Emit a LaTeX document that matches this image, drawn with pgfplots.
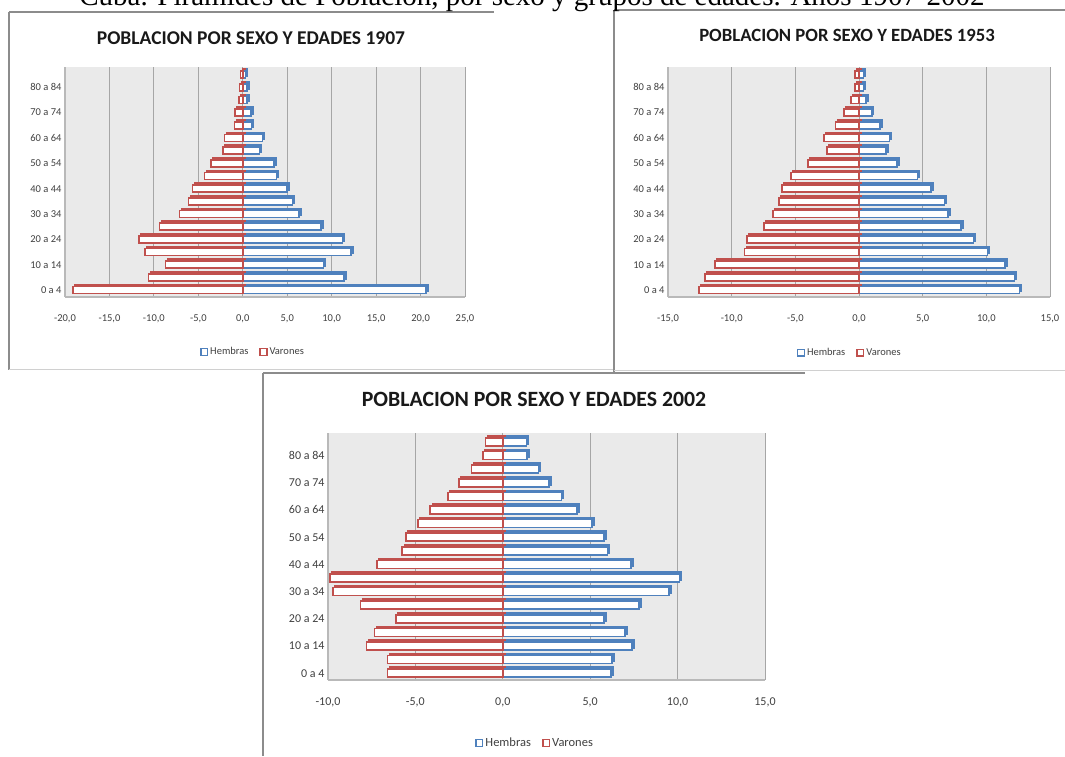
\documentclass[border=0pt]{standalone}
\usepackage{pgfplots}
\pgfplotsset{compat=1.18}
\usepackage{fontspec}
\setmainfont{Carlito}
\newfontfamily\capfont{Liberation Serif}
\definecolor{hblue}{HTML}{4F81BD}
\definecolor{vred}{HTML}{C0504D}
\definecolor{wall}{HTML}{EAEAEA}
\definecolor{gridc}{HTML}{A6A6A6}
\definecolor{lbl}{HTML}{404040}
\definecolor{framec}{HTML}{8C8C8C}
\definecolor{framel}{HTML}{D0D0D0}

\pgfplotsset{
  pyr/.style={
    scale only axis, anchor=south west,
    axis background/.style={fill=wall},
    axis x line*=bottom, axis y line*=left,
    axis line style={-, draw=gray!55, line width=2.5pt},
    xmajorgrids, major grid style={draw=gridc, line width=0.8pt},
    major tick length=0pt,
    ytick={0,2,...,16},
    yticklabels={0 a 4,10 a 14,20 a 24,30 a 34,40 a 44,50 a 54,60 a 64,70 a 74,80 a 84},
    /pgf/number format/fixed, /pgf/number format/fixed zerofill,
    /pgf/number format/precision=1, /pgf/number format/use comma,
    /pgf/number format/assume math mode=true,
    ticklabel style={text=lbl},
    xticklabel style={yshift=-14pt},
    legend columns=2,
    legend style={draw=none, fill=none, anchor=center, text=lbl,
      /tikz/every even column/.append style={column sep=9pt}},
  },
  shad/.style={xbar, bar shift=0pt, draw=#1, fill=#1, line width=1.5pt, xshift=2pt, yshift=2pt, forget plot},
  mainbar/.style={xbar, bar shift=0pt, draw=#1, fill=white, line width=1.6pt,
    legend image code/.code={\draw[draw=#1, line width=1.5pt, fill=white] (0pt,-3.3pt) rectangle (6.6pt,3.3pt);}},
}

\begin{document}
\begin{tikzpicture}[x=1pt,y=1pt]
\useasboundingbox (0,0) rectangle (1065,756);

% frames
\draw[framec, line width=1.5pt] (9,744) -- (494,744);
\draw[framec, line width=1.5pt] (9,744) -- (9,386);
\draw[framel, line width=1pt] (9,386) -- (614,386);
\draw[framec, line width=1.5pt] (614,746) -- (1065,746);
\draw[framec, line width=1.5pt] (614,746) -- (614,382);
\draw[framel, line width=1pt] (614,385) -- (1065,385);
\draw[framec, line width=1.5pt] (263,383) -- (805,383);
\draw[framec, line width=1.5pt] (263,383) -- (263,0);

% top caption (partly cut)
\node[anchor=base, inner sep=0pt, font=\capfont\fontsize{29}{34}\selectfont] at (532,750)
  {Cuba. Pirámides de Población, por sexo y grupos de edades. Años 1907-2002};

% titles
\node[font=\bfseries\fontsize{19.5}{23}\selectfont, text=black!90] at (251,718) {POBLACION POR SEXO Y EDADES 1907};
\node[font=\bfseries\fontsize{18.7}{22}\selectfont, text=black!90] at (847,721) {POBLACION POR SEXO Y EDADES 1953};
\node[font=\bfseries\fontsize{21.8}{26}\selectfont, text=black!90] at (534,357) {POBLACION POR SEXO Y EDADES 2002};

% ---------- 1907 ----------
\begin{axis}[pyr, at={(65pt,459pt)}, width=400pt, height=230pt,
  xmin=-20, xmax=25, ymin=-0.55, ymax=17.6,
  xtick={-20,-15,...,25}, bar width=7pt,
  ticklabel style={font=\fontsize{10.5}{12}\selectfont},
  legend style={at={(0.47,-0.239)}, font=\fontsize{10.5}{12}\selectfont}]
\addplot[shad=hblue] coordinates {(20.6,0)(11.4,1)(9.1,2)(12.2,3)(11.2,4)(8.8,5)(6.3,6)(5.6,7)(5.0,8)(3.8,9)(3.5,10)(1.9,11)(2.2,12)(1.0,13)(0.9,14)(0.5,15)(0.5,16)(0.3,17)};
\addplot[shad=vred] coordinates {(-19.1,0)(-10.6,1)(-8.7,2)(-11.0,3)(-11.7,4)(-9.35,5)(-7.1,6)(-6.1,7)(-5.65,8)(-4.3,9)(-3.55,10)(-2.2,11)(-2.05,12)(-0.95,13)(-0.85,14)(-0.4,15)(-0.35,16)(-0.25,17)};
\addplot[mainbar=hblue] coordinates {(20.6,0)(11.4,1)(9.1,2)(12.2,3)(11.2,4)(8.8,5)(6.3,6)(5.6,7)(5.0,8)(3.8,9)(3.5,10)(1.9,11)(2.2,12)(1.0,13)(0.9,14)(0.5,15)(0.5,16)(0.3,17)};
\addlegendentry{Hembras}
\addplot[mainbar=vred] coordinates {(-19.1,0)(-10.6,1)(-8.7,2)(-11.0,3)(-11.7,4)(-9.35,5)(-7.1,6)(-6.1,7)(-5.65,8)(-4.3,9)(-3.55,10)(-2.2,11)(-2.05,12)(-0.95,13)(-0.85,14)(-0.4,15)(-0.35,16)(-0.25,17)};
\addlegendentry{Varones}
\end{axis}

% ---------- 1953 ----------
\begin{axis}[pyr, at={(668pt,459pt)}, width=382pt, height=230pt,
  xmin=-15, xmax=15, ymin=-0.55, ymax=17.6,
  xtick={-15,-10,...,15}, bar width=7pt,
  ticklabel style={font=\fontsize{10.5}{12}\selectfont},
  legend style={at={(0.476,-0.243)}, font=\fontsize{10.5}{12}\selectfont}]
\addplot[shad=hblue] coordinates {(12.6,0)(12.2,1)(11.45,2)(10.1,3)(9.0,4)(8.0,5)(7.0,6)(6.7,7)(5.65,8)(4.6,9)(3.0,10)(2.1,11)(2.4,12)(1.65,13)(1.0,14)(0.55,15)(0.35,16)(0.35,17)};
\addplot[shad=vred] coordinates {(-12.55,0)(-12.1,1)(-11.3,2)(-9.0,3)(-8.8,4)(-7.45,5)(-6.75,6)(-6.3,7)(-6.05,8)(-5.35,9)(-4.0,10)(-2.5,11)(-2.75,12)(-1.85,13)(-1.2,14)(-0.65,15)(-0.3,16)(-0.3,17)};
\addplot[mainbar=hblue] coordinates {(12.6,0)(12.2,1)(11.45,2)(10.1,3)(9.0,4)(8.0,5)(7.0,6)(6.7,7)(5.65,8)(4.6,9)(3.0,10)(2.1,11)(2.4,12)(1.65,13)(1.0,14)(0.55,15)(0.35,16)(0.35,17)};
\addlegendentry{Hembras}
\addplot[mainbar=vred] coordinates {(-12.55,0)(-12.1,1)(-11.3,2)(-9.0,3)(-8.8,4)(-7.45,5)(-6.75,6)(-6.3,7)(-6.05,8)(-5.35,9)(-4.0,10)(-2.5,11)(-2.75,12)(-1.85,13)(-1.2,14)(-0.65,15)(-0.3,16)(-0.3,17)};
\addlegendentry{Varones}
\end{axis}

% ---------- 2002 ----------
\begin{axis}[pyr, at={(328pt,76pt)}, width=437pt, height=247pt,
  xmin=-10, xmax=15, ymin=-0.5, ymax=17.66,
  xtick={-10,-5,...,15}, bar width=8pt,
  ticklabel style={font=\fontsize{12}{14}\selectfont},
  legend style={at={(0.474,-0.255)}, font=\fontsize{12.5}{14}\selectfont}]
\addplot[shad=hblue] coordinates {(6.2,0)(6.25,1)(7.4,2)(7.0,3)(5.8,4)(7.8,5)(9.5,6)(10.1,7)(7.35,8)(6.0,9)(5.8,10)(5.1,11)(4.25,12)(3.35,13)(2.65,14)(2.05,15)(1.4,16)(1.35,17)};
\addplot[shad=vred] coordinates {(-6.6,0)(-6.6,1)(-7.8,2)(-7.35,3)(-6.1,4)(-8.15,5)(-9.7,6)(-9.9,7)(-7.2,8)(-5.75,9)(-5.55,10)(-4.85,11)(-4.15,12)(-3.15,13)(-2.5,14)(-1.8,15)(-1.15,16)(-1.0,17)};
\addplot[mainbar=hblue] coordinates {(6.2,0)(6.25,1)(7.4,2)(7.0,3)(5.8,4)(7.8,5)(9.5,6)(10.1,7)(7.35,8)(6.0,9)(5.8,10)(5.1,11)(4.25,12)(3.35,13)(2.65,14)(2.05,15)(1.4,16)(1.35,17)};
\addlegendentry{Hembras}
\addplot[mainbar=vred] coordinates {(-6.6,0)(-6.6,1)(-7.8,2)(-7.35,3)(-6.1,4)(-8.15,5)(-9.7,6)(-9.9,7)(-7.2,8)(-5.75,9)(-5.55,10)(-4.85,11)(-4.15,12)(-3.15,13)(-2.5,14)(-1.8,15)(-1.15,16)(-1.0,17)};
\addlegendentry{Varones}
\end{axis}
\end{tikzpicture}
\end{document}
